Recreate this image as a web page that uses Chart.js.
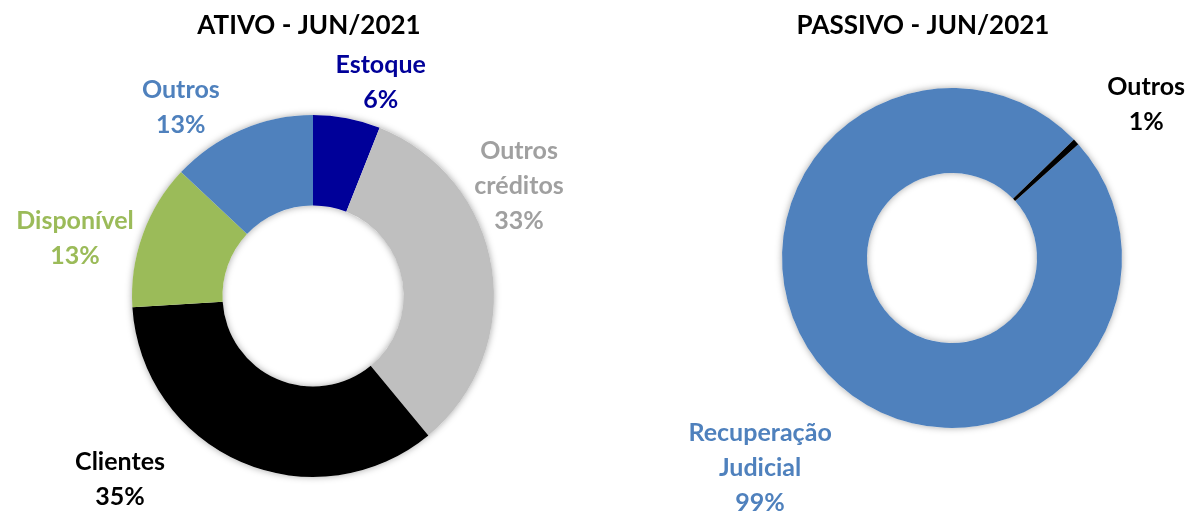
<!DOCTYPE html>
<html>
<head>
<meta charset="utf-8">
<script src="https://cdn.jsdelivr.net/npm/chart.js@4.4.0/dist/chart.umd.min.js"></script>
<style>
  html, body { margin: 0; padding: 0; background: #fff; }
  #wrap { position: relative; width: 1197px; height: 513px; }
  .box { position: absolute; top: 0; height: 513px; }
</style>
</head>
<body>
<div id="wrap">
  <div class="box" style="left:0;width:600px"><canvas id="ativo"></canvas></div>
  <div class="box" style="left:600px;width:597px"><canvas id="passivo"></canvas></div>
</div>
<script>
// Données - ATIVO
const ativoTitre = 'ATIVO - JUN/2021';
const ativoCategories = [['Estoque'], ['Outros', 'créditos'], ['Clientes'], ['Disponível'], ['Outros']];
const ativoValeurs = [6, 33, 35, 13, 13];
const ativoCouleurs = ['#000099', '#BFBFBF', '#000000', '#9BBB59', '#4F81BD'];
const ativoCouleursTexte = ['#000099', '#A0A0A0', '#000000', '#9BBB59', '#4F81BD'];

// Données - PASSIVO
const passivoTitre = 'PASSIVO - JUN/2021';
const passivoCategories = [['Recuperação', 'Judicial'], ['Outros']];
const passivoValeurs = [99.4, 0.6];
const passivoCouleurs = ['#4F81BD', '#000000'];
const passivoCouleursTexte = ['#4F81BD', '#000000'];

// placement des étiquettes : décalage d'angle (deg) depuis le milieu de la part, distance en rayons
const ativoPlacement = [{da: 6.7, k: 1.243}, {da: -19.4, k: 1.294}, {da: 23.2, k: 1.467}, {da: -6, k: 1.354}, {da: -11.5, k: 1.276}];
const passivoPlacement = [{da: -4.3, k: 1.667}, {da: 4.6, k: 1.459}];

const police = 'Lato, "Open Sans", sans-serif';

// anneau blanc avec ombre sous le graphe (effet Excel)
const ombrePlugin = {
    id: 'ombre',
    beforeDatasetsDraw(chart) {
        const arc = chart.getDatasetMeta(0).data[0];
        if (!arc) return;
        const ctx = chart.ctx;
        ctx.save();
        ctx.shadowColor = 'rgba(0,0,0,0.35)';
        ctx.shadowBlur = 7;
        ctx.fillStyle = '#fff';
        ctx.beginPath();
        ctx.arc(arc.x, arc.y, arc.outerRadius, 0, Math.PI * 2);
        ctx.arc(arc.x, arc.y, arc.innerRadius, 0, Math.PI * 2, true);
        ctx.fill();
        ctx.restore();
    }
};

// titre + étiquettes autour du graphe
const etiquettesPlugin = {
    id: 'etiquettes',
    afterDatasetsDraw(chart, args, opts) {
        const ctx = chart.ctx;
        const meta = chart.getDatasetMeta(0);
        const valeurs = chart.data.datasets[0].data;
        const total = valeurs.reduce((a, b) => a + b, 0);
        const hauteurLigne = 35;
        const cap = 18;
        ctx.save();
        ctx.textAlign = 'center';
        ctx.textBaseline = 'alphabetic';

        // titre
        ctx.fillStyle = '#000';
        ctx.font = 'bold 26px ' + police;
        ctx.fillText(opts.titre, opts.titreX, 34);

        ctx.font = 'bold 25px ' + police;
        meta.data.forEach((arc, i) => {
            const milieu = (arc.startAngle + arc.endAngle) / 2 + opts.placement[i].da * Math.PI / 180;
            const d = arc.outerRadius * opts.placement[i].k;
            const cx = arc.x + Math.cos(milieu) * d;
            const cy = arc.y + Math.sin(milieu) * d;
            const lignes = chart.data.labels[i].concat([Math.round(valeurs[i] / total * 100) + '%']);
            const hauteurBloc = (lignes.length - 1) * hauteurLigne + cap;
            let y = cy - hauteurBloc / 2 + cap;
            ctx.fillStyle = opts.couleurs[i];
            lignes.forEach(l => {
                ctx.fillText(l, cx, y);
                y += hauteurLigne;
            });
        });
        ctx.restore();
    }
};

function creerDonut(id, labels, valeurs, couleurs, rotation, padding, titre, titreX, couleursTexte, placement) {
    return new Chart(document.getElementById(id), {
        type: 'doughnut',
        data: {
            labels: labels,
            datasets: [{
                data: valeurs,
                backgroundColor: couleurs,
                borderWidth: 0
            }]
        },
        options: {
            responsive: true,
            maintainAspectRatio: false,
            animation: false,
            events: [],
            cutout: '50%',
            rotation: rotation,
            layout: { padding: padding },
            plugins: {
                legend: { display: false },
                tooltip: { enabled: false },
                etiquettes: { titre: titre, titreX: titreX, couleurs: couleursTexte, placement: placement }
            }
        },
        plugins: [ombrePlugin, etiquettesPlugin]
    });
}

creerDonut('ativo', ativoCategories, ativoValeurs, ativoCouleurs, 0,
    { left: 132, top: 115, right: 106, bottom: 36 }, ativoTitre, 309, ativoCouleursTexte, ativoPlacement);

creerDonut('passivo', passivoCategories, passivoValeurs, passivoCouleurs, 48,
    { left: 182, top: 88, right: 75, bottom: 85 }, passivoTitre, 323, passivoCouleursTexte, passivoPlacement);
</script>
</body>
</html>
